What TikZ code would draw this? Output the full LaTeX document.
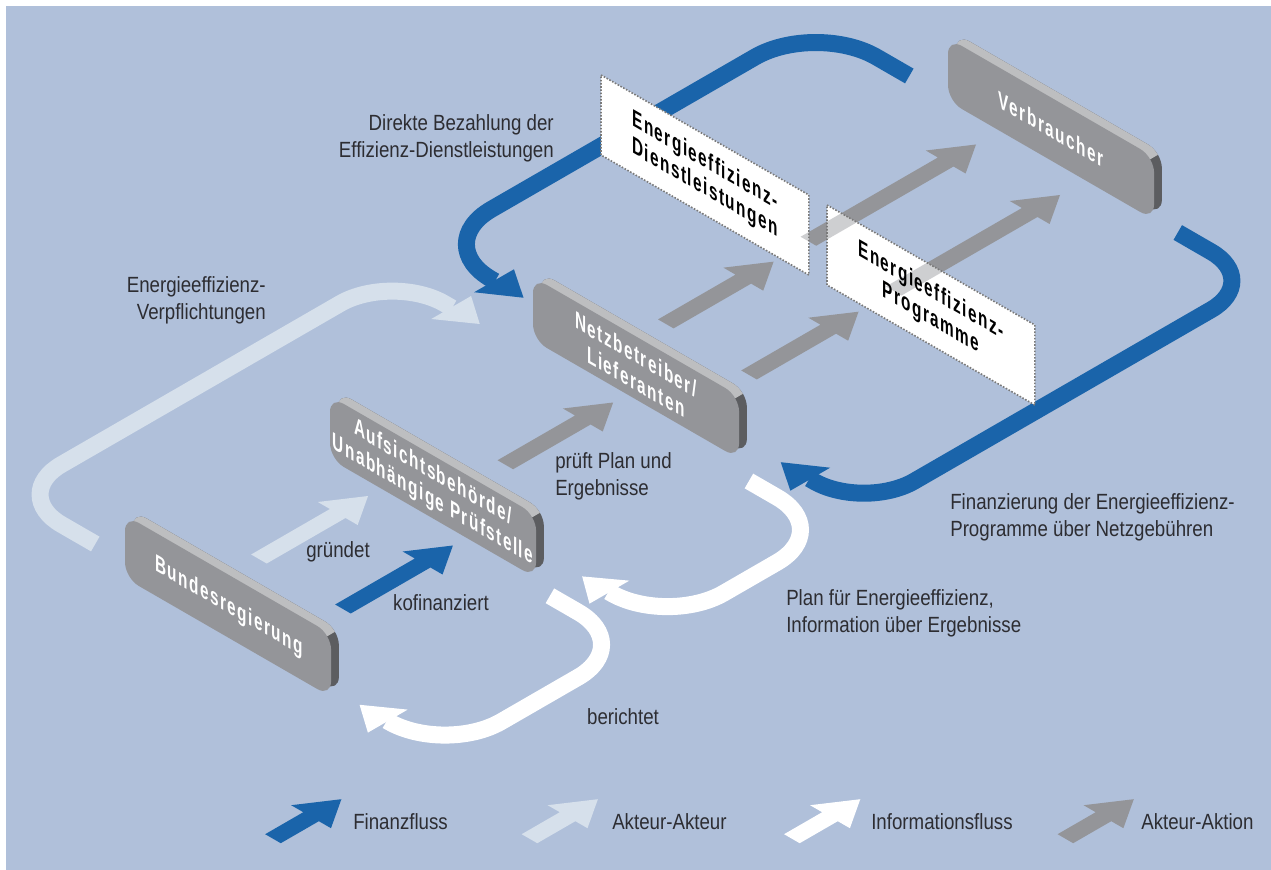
\documentclass[tikz,border=0pt]{standalone}
\usepackage{fontspec}
\setmainfont{Liberation Sans}
\newfontfamily\labelfont{Liberation Sans}[FakeStretch=0.85]
\newfontfamily\boxfont{Liberation Sans}[FakeStretch=0.64,LetterSpace=6]
\definecolor{bgblue}{HTML}{B0C0DA}
\definecolor{finblue}{HTML}{1A64AA}
\definecolor{actorlight}{HTML}{D6E0EB}
\definecolor{actiongrey}{HTML}{949599}
\definecolor{boxfront}{HTML}{949599}
\definecolor{boxtop}{HTML}{BDBEC0}
\definecolor{boxside}{HTML}{5C5D60}
\definecolor{txt}{HTML}{2D2D32}
\definecolor{panelline}{HTML}{7A7A7A}
\tikzset{
  ground/.style={x={(0.6495pt,0.375pt)}, y={(0.6495pt,-0.375pt)}},
  wall/.style={x={(0.6495pt,-0.375pt)}, y={(0pt,-0.75pt)}},
  band/.style={line width=12.75pt},
  note/.style={font={\labelfont\fontsize{16.5}{20.25}\selectfont}, text=txt, inner sep=0pt},
  boxtext/.style={font={\boxfont\bfseries\fontsize{18}{20.5}\selectfont}, text=white,
    align=center, yslant=-0.5774, inner sep=0pt},
  paneltext/.style={boxtext, text=black},
  panelpath/.style={insert path={(0,0) -- (240,0) -- (240,80) -- (0,80) -- cycle}},
  slabpath/.style={insert path={(16,0) -- (222,0) .. controls (231,0) and (238,7) .. (238,16)
    -- (238,47) .. controls (238,56) and (231,63) .. (222,63) -- (16,63)
    .. controls (7,63) and (0,56) .. (0,47) -- (0,16) .. controls (0,7) and (7,0) .. (16,0) -- cycle}},
  slab/.pic={
    \begin{scope}[wall]
      \fill[boxside, shift={(9,-9)}, slabpath];
      \begin{scope}
        \clip (-100,-100) -- (338,-100) -- (-100,338) -- cycle;
        \fill[boxtop, shift={(9,-9)}, slabpath];
      \end{scope}
      \fill[boxfront, slabpath];
    \end{scope}
  }
}
\begin{document}
\begin{tikzpicture}[x=0.75pt, y=-0.75pt]
  \useasboundingbox (0,0) rectangle (1271,870);
  \fill[white] (0,0) rectangle (1271,870);
  \fill[bgblue] (6,6) rectangle (1271,870);

  % loops in the ground plane
  \begin{scope}[ground]
    \draw[band, actorlight] (-489,599) -- (-489,560) .. controls (-489,527) and (-462,500) .. (-429,500)
      -- (-107,500) .. controls (-74,500) and (-47,527) .. (-47,560) -- (-47,569);
    \fill[actorlight] (-70,568) -- (-24,568) -- (-47,601) -- cycle;
    \draw[band, finblue] (449,601) -- (449,563) .. controls (449,524.4) and (417.6,493) .. (379,493)
      -- (74.5,493) .. controls (35.9,493) and (4.5,524.4) .. (4.5,563) -- (4.5,567);
    \fill[finblue] (-18.5,566) -- (27.5,566) -- (4.5,600) -- cycle;
    \draw[band, finblue] (447.5,912.5) -- (447.5,951) .. controls (447.5,983) and (421.5,1009) .. (389.5,1009)
      -- (46.6,1009) .. controls (14.6,1009) and (-11.4,983) .. (-11.4,951) -- (-11.4,946);
    \fill[finblue] (-34.4,947) -- (11.6,947) -- (-11.4,913) -- cycle;
    \draw[band, white] (-48.6,913.4) -- (-48.6,946) .. controls (-48.6,981.9) and (-77.7,1011) .. (-113.6,1011)
      -- (-175.3,1011) .. controls (-211.2,1011) and (-240.3,981.9) .. (-240.3,946) -- (-240.3,943);
    \fill[white] (-263.3,944) -- (-217.3,944) -- (-240.3,912.5) -- cycle;
    \draw[band, white] (-278.3,913.3) -- (-278.3,946) .. controls (-278.3,981.9) and (-307.4,1011) .. (-343.3,1011)
      -- (-432.2,1011) .. controls (-468.1,1011) and (-497.2,981.9) .. (-497.2,946) -- (-497.2,944);
    \fill[white] (-520.2,945) -- (-474.2,945) -- (-497.2,912.4) -- cycle;
  \end{scope}

  % panels
  \foreach \px/\py in {601/75, 827/205}
    \fill[white, shift={(\px,\py)}, wall, panelpath];

  % straight arrows
  \begin{scope}[ground]
    \foreach \c/\a/\b/\l in {actorlight/-409.5/708.5/126, finblue/-411/807/127,
        actiongrey/-173/756.5/124.5, actiongrey/60.5/708.3/124.5, actiongrey/57.5/807.4/126.5,
        actiongrey/225.5/708/193.5, actiongrey/225/807/192,
        finblue/-681.1/996.3/79, actorlight/-533/1144.4/79, white/-381.5/1295.9/79, actiongrey/-223.6/1453.8/79}
      \fill[\c, shift={(\a,\b)}] (0,-9) -- ({\l-35},-9) -- ({\l-35},-23) -- (\l,0)
        -- ({\l-35},23) -- ({\l-35},9) -- (0,9) -- cycle;
  \end{scope}

  \foreach \px/\py in {601/75, 827/205} {
    \fill[white, fill opacity=0.55, shift={(\px,\py)}, wall, panelpath];
    \draw[panelline, line width=1.2pt, dash pattern=on 1.2pt off 1.2pt, shift={(\px,\py)}, wall, panelpath];
  }
  \node[paneltext] (dienst) at (705,175) {Energieeffizienz-\\Dienstleistungen};
  \node[paneltext] (prog) at (931,305) {Energieeffizienz-\\Programme};

  % actors
  \pic at (125,515) {slab};
  \pic at (330,396) {slab};
  \pic at (533,277) {slab};
  \pic at (948,38) {slab};
  \node[boxtext] (bund) at (229,607) {Bundesregierung};
  \node[boxtext] (aufs) at (433,487) {Aufsichtsbehörde/\\Unabhängige Prüfstelle};
  \node[boxtext] (netz) at (636,368) {Netzbetreiber/\\Lieferanten};
  \node[boxtext] (verb) at (1051,129) {Verbraucher};

  % labels
  \node[note, align=right, anchor=east] (direkt) at (554,138) {Direkte Bezahlung der\\Effizienz-Dienstleistungen};
  \node[note, align=right, anchor=east] (verpf) at (266,300) {Energieeffizienz-\\Verpflichtungen};
  \node[note] (gruendet) at (338,552) {gründet};
  \node[note] (kofin) at (441,603) {kofinanziert};
  \node[note, align=left, anchor=west] (prueft) at (555,476) {prüft Plan und\\Ergebnisse};
  \node[note, align=left, anchor=west] (planinfo) at (786,613) {Plan für Energieeffizienz,\\Information über Ergebnisse};
  \node[note, align=left, anchor=west] (netzgeb) at (950,517) {Finanzierung der Energieeffizienz-\\Programme über Netzgebühren};
  \node[note] (bericht) at (623,717) {berichtet};

  % legend
  \node[note, anchor=west] (lfin) at (353,822) {Finanzfluss};
  \node[note, anchor=west] (lakt) at (612,822) {Akteur-Akteur};
  \node[note, anchor=west] (linf) at (871,822) {Informationsfluss};
  \node[note, anchor=west] (lakn) at (1141,822) {Akteur-Aktion};
\end{tikzpicture}
\end{document}
